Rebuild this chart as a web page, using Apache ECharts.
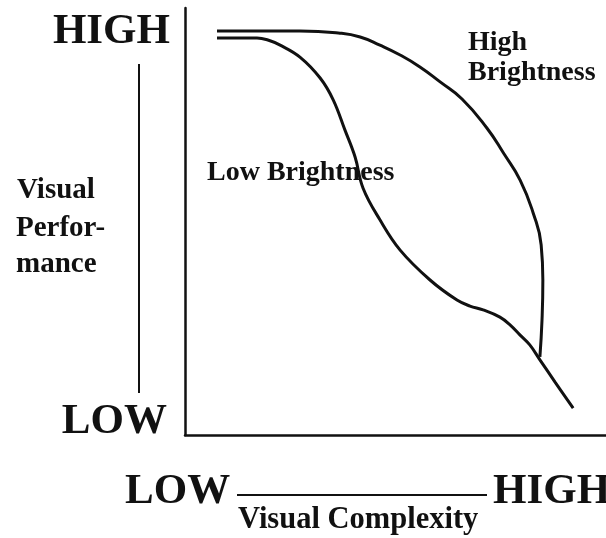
<!DOCTYPE html>
<html>
<head>
<meta charset="utf-8">
<script src="https://cdn.jsdelivr.net/npm/echarts@6/dist/echarts.min.js"></script>
<style>
  html, body { margin: 0; padding: 0; background: #fff; }
  #chart { width: 606px; height: 538px; }
</style>
</head>
<body>
<div id="chart"></div>
<script>
// curves, in percent of each axis (0 = LOW, 100 = HIGH)
var lowBrightX = [7.6, 13.1, 17.1, 19.7, 22.6, 27.3, 32.1, 35.2, 38.0, 40.4, 42.3, 46.3, 51.1, 58.2, 64.6, 67.7, 70.8, 74.8, 77.2, 79.6, 81.9, 84.3, 87.9, 92.2];
var lowBrightY = [93.0, 93.0, 93.0, 92.5, 91.3, 88.5, 83.6, 78.5, 71.4, 65.1, 57.8, 50.4, 43.3, 36.3, 31.6, 30.2, 29.3, 27.6, 25.8, 23.4, 21.1, 17.6, 12.4, 6.3];
var highBrightX = [7.6, 27.3, 36.8, 41.6, 46.3, 51.1, 55.8, 60.6, 65.8, 71.7, 75.8, 79.6, 82.7, 84.6, 85.0, 84.8, 84.3];
var highBrightY = [94.6, 94.6, 94.1, 93.2, 91.3, 89.0, 86.2, 82.7, 78.7, 71.9, 65.8, 59.7, 52.0, 44.5, 36.3, 26.9, 18.3];

var ink = '#111';
var serif = '"Liberation Serif", "Times New Roman", serif';

function pairs(xs, ys) {
  var out = [];
  for (var i = 0; i < xs.length; i++) out.push([xs[i], ys[i]]);
  return out;
}

function label(text, x, y, size, align) {
  return {
    type: 'text', x: x, y: y,
    style: { text: text, fill: ink, font: 'bold ' + size + 'px ' + serif, textAlign: align || 'left', textVerticalAlign: 'middle' }
  };
}

function rule(x1, y1, x2, y2) {
  return { type: 'line', shape: { x1: x1, y1: y1, x2: x2, y2: y2 }, style: { stroke: ink, lineWidth: 2 } };
}

var chart = echarts.init(document.getElementById('chart'));
chart.setOption({
  animation: false,
  grid: { left: 185, right: 0, top: 8, bottom: 103 },
  xAxis: {
    type: 'value', min: 0, max: 100,
    axisLine: { show: true, lineStyle: { color: ink, width: 2.5 } },
    axisTick: { show: false }, axisLabel: { show: false }, splitLine: { show: false }
  },
  yAxis: {
    type: 'value', min: 0, max: 100,
    axisLine: { show: true, lineStyle: { color: ink, width: 2.5 } },
    axisTick: { show: false }, axisLabel: { show: false }, splitLine: { show: false }
  },
  series: [
    {
      name: 'Low Brightness', type: 'line', data: pairs(lowBrightX, lowBrightY),
      smooth: 0.4, showSymbol: false, lineStyle: { color: ink, width: 3 }
    },
    {
      name: 'High Brightness', type: 'line', data: pairs(highBrightX, highBrightY),
      smooth: 0.5, showSymbol: false, lineStyle: { color: ink, width: 3 }
    }
  ],
  graphic: [
    label('HIGH', 170, 32, 43, 'right'),
    label('LOW', 167, 422, 43, 'right'),
    rule(139, 64, 139, 393),
    label('Visual', 17, 191, 29),
    label('Perfor-', 16, 229, 29),
    label('mance', 16, 265, 29),
    label('Low Brightness', 207, 173, 28),
    label('High', 468, 43, 28),
    label('Brightness', 468, 73, 28),
    label('LOW', 125, 492, 43),
    rule(237, 495, 487, 495),
    label('HIGH', 493, 492, 43),
    label('Visual Complexity', 238, 520, 30.5)
  ]
});
</script>
</body>
</html>
